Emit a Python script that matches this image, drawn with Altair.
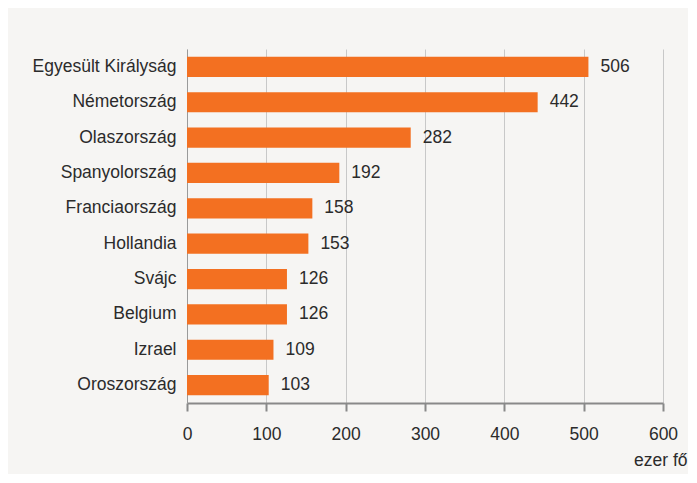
import altair as alt
import pandas as pd

countries = ["Egyesült Királyság", "Németország", "Olaszország", "Spanyolország",
             "Franciaország", "Hollandia", "Svájc", "Belgium", "Izrael", "Oroszország"]
values = [506, 442, 282, 192, 158, 153, 126, 126, 109, 103]

df = pd.DataFrame({"country": countries, "value": values})

FONT = "Liberation Sans"
BG = "#f6f5f3"
ORANGE = "#f37021"
FS = 17.5

y = alt.Y("country:N", sort=countries, title=None,
          scale=alt.Scale(paddingInner=0.43, paddingOuter=0.22),
          axis=alt.Axis(domain=True, domainColor="#9a9a9a", domainWidth=1,
                        ticks=False, labelPadding=11, labelFontSize=FS,
                        labelColor="#2b2b2b", labelFont=FONT, grid=False))

x = alt.X("value:Q", title="ezer fő",
          scale=alt.Scale(domain=[0, 600], nice=False),
          axis=alt.Axis(values=[0, 100, 200, 300, 400, 500, 600],
                        grid=True, gridColor="#c8c8c8", gridWidth=1,
                        domainColor="#898989", domainWidth=2,
                        tickColor="#898989", tickWidth=2, tickSize=8,
                        labelFontSize=FS, labelColor="#2b2b2b", labelFont=FONT,
                        labelPadding=14, labelFlush=False, labelOverlap=False,
                        titleFont=FONT, titleFontSize=FS, titleFontWeight="normal",
                        titleColor="#2b2b2b", titleX=500, titleY=57,
                        titleAlign="right", titleBaseline="middle", titleAnchor="end"))

bars = alt.Chart(df).mark_bar(color=ORANGE).encode(x=x, y=y)

text = alt.Chart(df).mark_text(align="left", baseline="middle", dx=12,
                               font=FONT, fontSize=FS, color="#2b2b2b").encode(
    x=alt.X("value:Q"), y=alt.Y("country:N", sort=countries), text="value:Q")

chart = (bars + text).properties(
    width=476, height=354,
    autosize=alt.AutoSizeParams(type="none"),
    padding={"left": 179, "top": 41, "right": 25, "bottom": 71},
    background=BG,
).configure_view(stroke=None)

chart.save("out.html", embed_options={"renderer": "svg", "actions": False})
